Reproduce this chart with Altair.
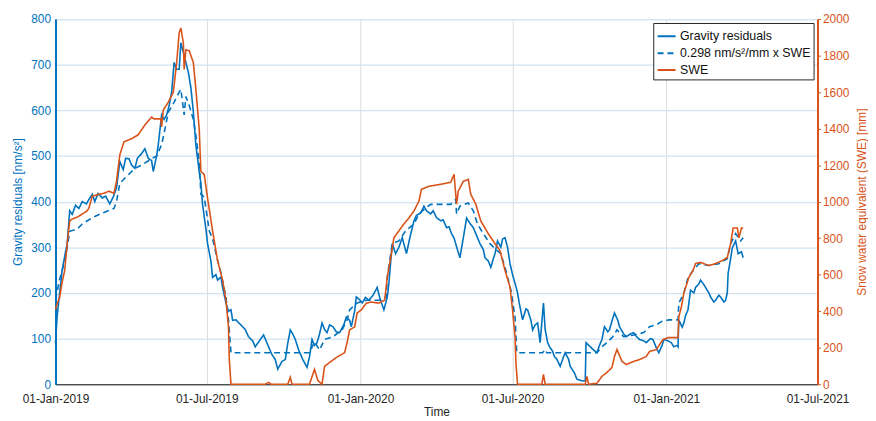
import altair as alt
import pandas as pd

START = "2019-01-01"
SERIES = ["Gravity residuals", "0.298 nm/s²/mm x SWE", "SWE"]

# Gravity residuals [nm/s^2]: day offset from 2019-01-01, value
grav_day = [0, 2, 5, 8, 12, 14, 17, 20, 24, 28, 32, 37, 40, 44, 47, 51, 56, 60, 65, 69,
            73, 77, 81, 84, 88, 91, 95, 98, 103, 107, 111, 115, 117, 121, 123, 127, 130, 133, 136, 139,
            142, 145, 148, 150, 154, 159, 162, 165, 168, 172, 174, 176, 180, 182, 186, 188, 192, 194, 198, 200,
            204, 207, 210, 212, 216, 219, 224, 227, 231, 236, 239, 244, 249, 252, 255, 259, 263, 266, 271, 275,
            278, 281, 284, 287, 291, 296, 301, 304, 307, 310, 313, 316, 319, 322, 325, 328, 332, 336, 340, 345,
            348, 352, 354, 358, 360, 364, 367, 371, 375, 380, 385, 388, 393, 397, 399, 403, 407, 411, 415, 418,
            420, 424, 429, 432, 437, 441, 444, 449, 452, 456, 461, 464, 468, 471, 474, 477, 481, 484, 488, 492,
            495, 500, 503, 508, 512, 514, 518, 521, 524, 526, 529, 533, 535, 538, 541, 544, 547, 550, 553, 555,
            559, 563, 565, 569, 571, 574, 577, 580, 584, 586, 589, 592, 595, 597, 600, 604, 608, 610, 614, 616,
            621, 624, 629, 632, 634, 635, 640, 644, 648, 651, 654, 657, 661, 663, 667, 669, 673, 675, 680, 683,
            688, 692, 695, 699, 704, 707, 712, 715, 719, 722, 726, 728, 733, 737, 740, 744, 745, 746, 750, 752,
            754, 757, 760, 764, 766, 770, 772, 776, 778, 782, 784, 788, 790, 794, 796, 800, 802, 804, 805, 808,
            810, 814, 816, 817, 821, 823]
grav_val = [90, 150, 200, 250, 290, 308, 380, 372, 392, 385, 400, 395, 405, 416, 400, 418, 408, 412, 395, 410,
            430, 488, 470, 495, 494, 480, 473, 495, 505, 516, 495, 490, 466, 500, 525, 590, 580, 590, 610, 640,
            705, 690, 690, 748, 720, 683, 650, 596, 524, 466, 440, 394, 340, 308, 270, 234, 240, 228, 235, 212,
            178, 160, 163, 140, 141, 135, 126, 120, 104, 95, 82, 95, 108, 95, 82, 65, 54, 33, 50, 54,
            90, 119, 110, 98, 75, 54, 37, 60, 98, 85, 91, 110, 134, 120, 113, 130, 126, 115, 113, 130,
            147, 140, 126, 160, 191, 185, 178, 190, 184, 195, 212, 190, 163, 190, 221, 308, 286, 300, 321, 300,
            286, 320, 358, 370, 375, 390, 380, 373, 380, 365, 358, 360, 343, 345, 330, 320, 295, 277, 320, 364,
            355, 343, 330, 308, 295, 277, 270, 256, 275, 286, 314, 300, 318, 321, 300, 264, 240, 221, 200, 178,
            141, 165, 163, 140, 119, 130, 134, 91, 178, 120, 91, 80, 72, 61, 55, 39, 60, 69, 55, 39,
            25, 11, 8, 7, 7, 91, 82, 75, 69, 85, 98, 126, 115, 119, 145, 156, 140, 126, 110, 104,
            110, 113, 105, 98, 95, 91, 100, 98, 80, 69, 85, 98, 95, 91, 82, 85, 82, 141, 125, 134,
            150, 163, 206, 200, 212, 220, 228, 218, 212, 200, 191, 180, 184, 195, 191, 180, 184, 200, 243, 275,
            299, 314, 295, 286, 290, 277]

# 0.298 nm/s^2/mm x SWE [nm/s^2]
dash_day = [0, 5, 8, 11, 14, 17, 26, 32, 44, 56, 70, 73, 77, 85, 95, 103, 115, 121, 127, 130,
            135, 142, 148, 150, 154, 156, 160, 165, 168, 172, 174, 178, 184, 188, 194, 198, 204, 207, 210, 298,
            304, 310, 316, 322, 332, 343, 349, 352, 361, 372, 387, 396, 397, 403, 411, 419, 429, 435, 443, 449,
            473, 479, 480, 484, 494, 500, 505, 512, 520, 526, 533, 539, 545, 550, 552, 583, 586, 588, 648, 654,
            660, 667, 672, 680, 692, 704, 711, 719, 725, 734, 745, 746, 752, 757, 763, 770, 782, 794, 804, 808,
            814, 820, 823]
dash_val = [185, 230, 250, 270, 300, 335, 340, 351, 365, 375, 385, 400, 440, 455, 473, 480, 494, 500, 525, 550,
            596, 618, 640, 646, 590, 630, 611, 580, 545, 486, 416, 410, 336, 319, 271, 243, 191, 141, 69, 69,
            69, 93, 75, 98, 104, 119, 141, 163, 178, 184, 184, 191, 234, 308, 314, 336, 351, 373, 386, 394,
            394, 405, 373, 390, 397, 380, 351, 330, 308, 297, 286, 249, 206, 147, 69, 69, 76, 69, 69, 82,
            91, 104, 119, 104, 108, 113, 126, 130, 137, 141, 141, 178, 199, 234, 249, 264, 260, 264, 275, 308,
            330, 314, 321]

# Snow water equivalent [mm]
swe_day = [0, 2, 5, 8, 11, 14, 17, 20, 26, 32, 38, 40, 44, 52, 58, 64, 70, 73, 77, 82,
           91, 99, 107, 115, 118, 126, 127, 129, 135, 141, 145, 148, 150, 153, 154, 156, 160, 165, 168, 172,
           174, 178, 182, 188, 194, 200, 204, 207, 208, 210, 251, 255, 258, 278, 281, 283, 304, 310, 314, 319,
           322, 328, 336, 346, 349, 352, 358, 361, 366, 372, 378, 387, 394, 397, 402, 405, 411, 417, 423, 429,
           435, 438, 447, 461, 473, 477, 480, 482, 488, 494, 497, 503, 509, 518, 526, 532, 538, 544, 547, 550,
           551, 553, 582, 584, 586, 634, 636, 638, 648, 654, 660, 666, 669, 672, 678, 683, 692, 699, 707, 711,
           719, 727, 733, 745, 746, 749, 752, 758, 763, 766, 772, 782, 790, 798, 804, 808, 811, 816, 818, 821,
           823]
swe_val = [410, 440, 477, 560, 623, 770, 894, 905, 915, 932, 950, 965, 1030, 1040, 1046, 1057, 1046, 1111, 1257, 1328,
           1344, 1366, 1420, 1463, 1453, 1453, 1409, 1501, 1545, 1599, 1761, 1924, 1951, 1870, 1724, 1832, 1827, 1761, 1615, 1398,
           1165, 1149, 1019, 840, 677, 569, 461, 314, 135, 0, 0, 10, 0, 0, 38, 0, 0, 81, 20, 0,
           98, 119, 146, 173, 228, 298, 314, 390, 407, 444, 450, 444, 461, 585, 715, 802, 840, 878, 911, 949,
           1003, 1068, 1084, 1095, 1106, 1149, 986, 1057, 1111, 1122, 1040, 986, 894, 824, 770, 732, 623, 531, 407, 260,
           119, 0, 0, 54, 0, 0, 43, 0, 5, 43, 65, 92, 152, 190, 125, 108, 125, 135, 152, 179,
           190, 244, 255, 255, 369, 423, 499, 585, 623, 661, 667, 650, 661, 677, 694, 770, 856, 856, 802, 856,
           856]

x_ticks = ["2019-01-01", "2019-07-01", "2020-01-01", "2020-07-01", "2021-01-01", "2021-07-01"]
left_ticks = list(range(0, 801, 100))
right_ticks = list(range(0, 2001, 200))

BLUE = "#0072BD"
ORANGE = "#D95319"
DARK = "#262626"
FONT = "Liberation Sans"


def to_dates(days):
    return (pd.Timestamp(START) + pd.to_timedelta(days, unit="D")).strftime("%Y-%m-%d").tolist()


left_df = pd.concat([
    pd.DataFrame({"date": to_dates(grav_day), "value": grav_val, "series": SERIES[0], "order": 0}),
    pd.DataFrame({"date": to_dates(dash_day), "value": dash_val, "series": SERIES[1], "order": 1}),
])
swe_df = pd.DataFrame({"date": to_dates(swe_day), "value": swe_val, "series": SERIES[2]})

x_enc = alt.X(
    "date:T",
    scale=alt.Scale(type="utc", domain=[x_ticks[0], x_ticks[-1]], nice=False),
    axis=alt.Axis(
        values=[alt.DateTime(year=int(d[:4]), month=int(d[5:7]), date=1, utc=True) for d in x_ticks],
        labelExpr="utcFormat(datum.value, '%d-%b-%Y')", labelOverlap=False,
        title="Time", grid=True, gridColor="#dcdcdc", gridWidth=1,
        labelColor=DARK, titleColor=DARK, domainColor=DARK, domainWidth=1, ticks=False,
        labelPadding=9, titlePadding=3, labelFontSize=12, titleFontSize=12,
        labelFont=FONT, titleFont=FONT, titleFontWeight="normal", labelFlush=False,
    ),
)

color_scale = alt.Scale(domain=SERIES, range=[BLUE, BLUE, ORANGE])
dash_scale = alt.Scale(domain=SERIES, range=[[1, 0], [6, 4], [1, 0]])
legend = alt.Legend(
    title=None, orient="top-right", offset=4, strokeColor=DARK, fillColor="white", padding=3,
    labelFontSize=12.5, labelFont=FONT, labelColor="#111111", symbolType="stroke", symbolStrokeWidth=2,
    symbolSize=330, rowPadding=0, labelLimit=400, labelOffset=3,
)

left = alt.Chart(left_df).mark_line(strokeWidth=1.6).encode(
    x=x_enc,
    y=alt.Y(
        "value:Q",
        scale=alt.Scale(domain=[0, 800], nice=False),
        axis=alt.Axis(
            values=left_ticks, title="Gravity residuals [nm/s²]", orient="left", grid=True,
            gridColor="#d2e3f2", gridWidth=1.2, labelColor=BLUE, titleColor=BLUE, domainColor=BLUE,
            domainWidth=2, ticks=False, labelPadding=5, titlePadding=6, labelFontSize=12,
            titleFontSize=12, labelFont=FONT, titleFont=FONT, titleFontWeight="normal",
        ),
    ),
    color=alt.Color("series:N", scale=color_scale, legend=legend),
    strokeDash=alt.StrokeDash("series:N", scale=dash_scale, legend=legend),
    detail="order:N",
)

right = alt.Chart(swe_df).mark_line(strokeWidth=1.6).encode(
    x=x_enc,
    y=alt.Y(
        "value:Q",
        scale=alt.Scale(domain=[0, 2000], nice=False),
        axis=alt.Axis(
            values=right_ticks, format="d", title="Snow water equivalent (SWE) [mm]", orient="right",
            grid=False, labelColor=ORANGE, titleColor=ORANGE, domainColor=ORANGE, domainWidth=2,
            ticks=True, tickColor=ORANGE, tickSize=3, labelPadding=2, titlePadding=8, titleAngle=270,
            titleBaseline="top", labelFontSize=12, titleFontSize=12, labelFont=FONT, titleFont=FONT,
            titleFontWeight="normal",
        ),
    ),
    color=alt.Color("series:N", scale=color_scale, legend=legend),
    strokeDash=alt.StrokeDash("series:N", scale=dash_scale, legend=legend),
)

chart = (
    alt.layer(left, right)
    .resolve_scale(y="independent")
    .properties(width=770, height=369, padding={"left": 3, "right": 0, "top": 3, "bottom": 0},
                background="white")
    .configure_view(stroke=DARK, strokeWidth=1)
)

chart.save("out.html", embed_options={"renderer": "svg", "actions": False})
